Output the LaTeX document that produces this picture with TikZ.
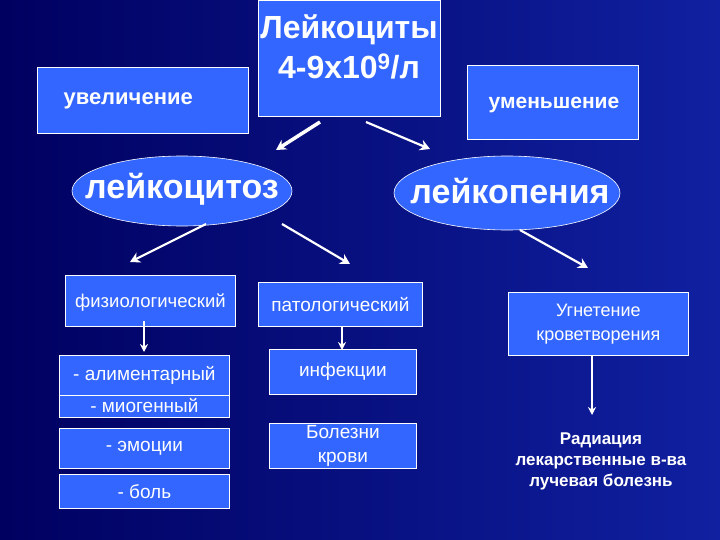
\documentclass[tikz,border=0pt]{standalone}
\usepackage{fontspec}
\setmainfont{Liberation Sans}
\usetikzlibrary{arrows.meta}
\definecolor{bx}{HTML}{3366FF}
\definecolor{bgA}{HTML}{000060}
\definecolor{bgB}{HTML}{1020A0}
\begin{document}
\begin{tikzpicture}[x=1pt,y=-1pt,
 box/.style={draw=white,fill=bx,text=white,line width=0.8pt,inner sep=0pt,anchor=north west},
 arr/.style={draw=white,line width=2.2pt,-{Stealth[length=10pt,width=11pt]}},
 thin arr/.style={draw=white,line width=1.4pt,-{Stealth[length=8pt,width=8pt]}}]
\shade[left color=bgA,right color=bgB,shading angle=90] (0,0) rectangle (720,540);
\useasboundingbox (0,0) rectangle (720,540);
\node[box,minimum width=182pt,minimum height=116pt] (L) at (258,0) {};
\node[text=white,font=\bfseries\fontsize{32}{40}\selectfont,align=center] (Lt) at (349,47) {Лейкоциты\\4-9х10\textsuperscript{9}/л};
\node[box,minimum width=211pt,minimum height=66pt] (U) at (37,67) {};
\node[text=white,font=\bfseries\fontsize{22}{26}\selectfont,anchor=west] (Ut) at (60,101) {увеличение};
\node[box,minimum width=171pt,minimum height=74pt] (D) at (467,65) {};
\node[text=white,font=\bfseries\fontsize{21}{26}\selectfont] (Dt) at (554,105) {уменьшение};
\path[draw=white,fill=bx,line width=0.6pt] (182,191) ellipse (110 and 35);
\node[text=white,font=\bfseries\fontsize{34}{40}\selectfont] (E1) at (182,189) {лейкоцитоз};
\path[draw=white,fill=bx,line width=0.6pt] (507,193) ellipse (113 and 37);
\node[text=white,font=\bfseries\fontsize{34}{40}\selectfont] (E2) at (510,191) {лейкопения};
\tikzset{t/.style={text=white,font=\fontsize{19}{23}\selectfont,align=center}}
\node[box,minimum width=170pt,minimum height=51pt] (F) at (65,275) {};
\node[t,font=\fontsize{18.5}{23}\selectfont] at ([yshift=-2pt]F.center) {физиологический};
\node[box,minimum width=164pt,minimum height=44pt] (P) at (258,282) {};
\node[t] at (P.center) {патологический};
\node[box,minimum width=180pt,minimum height=63pt] (G) at (508,292) {};
\node[t,font=\fontsize{18}{24}\selectfont] at (G.center) {Угнетение\\кроветворения};
\node[box,minimum width=170pt,minimum height=40pt] (A) at (59,355) {};
\node[t] at (A.center) {- алиментарный};
\node[box,minimum width=170pt,minimum height=22pt] (M) at (59,395) {};
\node[t] at ([yshift=1pt]M.center) {- миогенный};
\node[box,minimum width=147pt,minimum height=45pt] (I) at (269,349) {};
\node[t] at (I.center) {инфекции};
\node[box,minimum width=170pt,minimum height=40pt] (Em) at (59,428) {};
\node[t] at (Em.center) {- эмоции};
\node[box,minimum width=170pt,minimum height=34pt] (B) at (59,474) {};
\node[t] at (B.center) {- боль};
\node[box,minimum width=147pt,minimum height=45pt] (K) at (269,423) {};
\node[t,font=\fontsize{19}{24}\selectfont] at (K.center) {Болезни\\крови};
\node[text=white,font=\bfseries\fontsize{17}{21}\selectfont,align=center] (R) at (601,461) {Радиация\\лекарственные в-ва\\лучевая болезнь};
\coordinate (a1) at (320,122); \coordinate (a1e) at (276,150);
\coordinate (a2) at (366,122); \coordinate (a2e) at (430,149);
\coordinate (a3) at (206,224); \coordinate (a3e) at (130,262);
\coordinate (a4) at (282,224); \coordinate (a4e) at (350,264);
\coordinate (a5) at (520,230); \coordinate (a5e) at (588,268);
\draw[arr,line width=3.5pt] (a1) -- (a1e);
\draw[arr] (a2) -- (a2e);
\draw[arr] (a3) -- (a3e);
\draw[arr] (a4) -- (a4e);
\draw[arr] (a5) -- (a5e);
\coordinate (b1) at (144,321); \coordinate (b1e) at (144,352);
\coordinate (b2) at (342,326); \coordinate (b2e) at (342,350);
\coordinate (b3) at (592,356); \coordinate (b3e) at (592,415);
\draw[thin arr] (b1) -- (b1e);
\draw[thin arr] (b2) -- (b2e);
\draw[thin arr] (b3) -- (b3e);
\end{tikzpicture}
\end{document}
